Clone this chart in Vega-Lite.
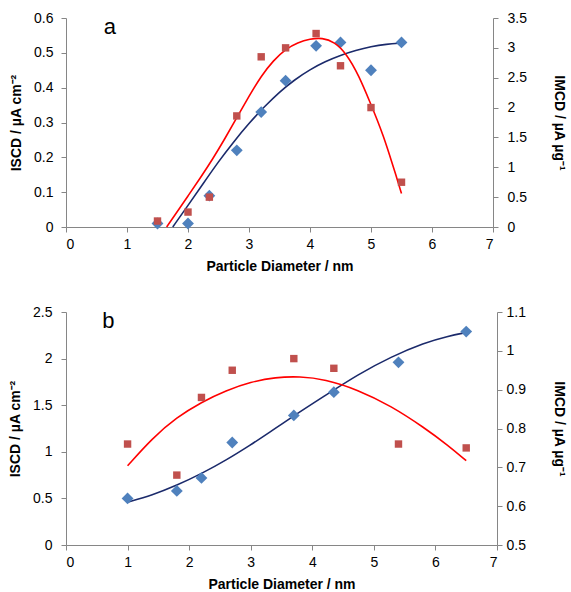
{
  "$schema": "https://vega.github.io/schema/vega-lite/v6.json",
  "padding": {"left": 8, "top": 11, "right": 2, "bottom": 0},
  "config": {
    "font": "Liberation Sans",
    "view": {"stroke": null},
    "concat": {"spacing": 32},
    "axis": {
      "domainColor": "#868686", "tickColor": "#868686", "tickSize": 5,
      "labelFontSize": 14, "labelColor": "#000000", "labelFont": "Liberation Sans", "labelOverlap": false,
      "titleFontSize": 14, "titleFontWeight": "bold", "titleColor": "#000000", "titleFont": "Liberation Sans",
      "grid": false
    }
  },
  "vconcat": [
    {
      "width": 427, "height": 209,
      "encoding": {
        "x": {"field": "d", "type": "quantitative", "scale": {"domain": [0, 7], "nice": false},
              "axis": {"values": [0,1,2,3,4,5,6,7], "format": "~g", "labelOverlap": false, "labelPadding": 5, "titlePadding": 8, "title": "Particle Diameter / nm"}}
      },
      "layer": [
        {
          "encoding": {
            "y": {"field": "v", "type": "quantitative", "scale": {"domain": [0, 0.6], "nice": false},
                  "axis": {"orient": "left", "values": [0,0.1,0.2,0.3,0.4,0.5,0.6], "format": "~g", "labelOverlap": false, "labelPadding": 8, "titlePadding": 10, "title": "ISCD / µA cm⁻²"}}
          },
          "layer": [
            {
              "data": {"values": [
                {"d": 1.75, "v": 0}, {"d": 2.0, "v": 0.062}, {"d": 2.25, "v": 0.125}, {"d": 2.5, "v": 0.188},
                {"d": 2.75, "v": 0.245}, {"d": 3.0, "v": 0.298}, {"d": 3.25, "v": 0.345}, {"d": 3.5, "v": 0.388},
                {"d": 3.75, "v": 0.423}, {"d": 4.0, "v": 0.452}, {"d": 4.25, "v": 0.475}, {"d": 4.5, "v": 0.493},
                {"d": 4.75, "v": 0.507}, {"d": 5.0, "v": 0.518}, {"d": 5.25, "v": 0.525}, {"d": 5.5, "v": 0.528}
              ]},
              "mark": {"type": "line", "color": "#1B2A6B", "strokeWidth": 1.6, "interpolate": "basis"}
            },
            {
              "data": {"values": [
                {"d": 1.5, "v": 0.01}, {"d": 2.0, "v": 0.01}, {"d": 2.35, "v": 0.09}, {"d": 2.8, "v": 0.22},
                {"d": 3.2, "v": 0.33}, {"d": 3.6, "v": 0.42}, {"d": 4.1, "v": 0.52}, {"d": 4.5, "v": 0.53},
                {"d": 5.0, "v": 0.45}, {"d": 5.5, "v": 0.53}
              ]},
              "mark": {"type": "point", "shape": "diamond", "filled": true, "size": 140, "color": "#4F81BD", "opacity": 1}
            },
            {
              "data": {"values": [{"d": 0.72, "v": 0.575, "label": "a"}]},
              "mark": {"type": "text", "fontSize": 22, "font": "Liberation Sans", "color": "#000000"},
              "encoding": {"text": {"field": "label"}}
            }
          ]
        },
        {
          "encoding": {
            "y": {"field": "v", "type": "quantitative", "scale": {"domain": [0, 3.5], "nice": false},
                  "axis": {"orient": "right", "values": [0,0.5,1,1.5,2,2.5,3,3.5], "format": "~g", "labelOverlap": false, "labelPadding": 9, "titlePadding": 25, "title": "IMCD / µA µg⁻¹"}}
          },
          "layer": [
            {
              "data": {"values": [
                {"d": 1.65, "v": 0}, {"d": 1.8, "v": 0.22}, {"d": 2.0, "v": 0.52}, {"d": 2.2, "v": 0.82},
                {"d": 2.4, "v": 1.13}, {"d": 2.6, "v": 1.47}, {"d": 2.8, "v": 1.83}, {"d": 3.0, "v": 2.19},
                {"d": 3.2, "v": 2.53}, {"d": 3.4, "v": 2.79}, {"d": 3.6, "v": 2.98}, {"d": 3.8, "v": 3.09},
                {"d": 4.0, "v": 3.15}, {"d": 4.2, "v": 3.17}, {"d": 4.4, "v": 3.1}, {"d": 4.6, "v": 2.9},
                {"d": 4.8, "v": 2.54}, {"d": 5.0, "v": 2.05}, {"d": 5.1, "v": 1.8}, {"d": 5.2, "v": 1.53},
                {"d": 5.3, "v": 1.22}, {"d": 5.4, "v": 0.9}, {"d": 5.5, "v": 0.56}
              ]},
              "mark": {"type": "line", "color": "#FF0000", "strokeWidth": 1.6, "interpolate": "basis"}
            },
            {
              "data": {"values": [
                {"d": 1.5, "v": 0.1}, {"d": 2.0, "v": 0.25}, {"d": 2.35, "v": 0.5}, {"d": 2.8, "v": 1.86},
                {"d": 3.2, "v": 2.85}, {"d": 3.6, "v": 3.0}, {"d": 4.1, "v": 3.24}, {"d": 4.5, "v": 2.7},
                {"d": 5.0, "v": 2.0}, {"d": 5.5, "v": 0.75}
              ]},
              "mark": {"type": "point", "shape": "square", "filled": true, "size": 55, "color": "#C0504D", "opacity": 1}
            }
          ]
        }
      ],
      "resolve": {"scale": {"y": "independent"}}
    },
    {
      "width": 431, "height": 233,
      "encoding": {
        "x": {"field": "d", "type": "quantitative", "scale": {"domain": [0, 7], "nice": false},
              "axis": {"values": [0,1,2,3,4,5,6,7], "format": "~g", "labelOverlap": false, "labelPadding": 5, "titlePadding": 8, "title": "Particle Diameter / nm"}}
      },
      "layer": [
        {
          "encoding": {
            "y": {"field": "v", "type": "quantitative", "scale": {"domain": [0, 2.5], "nice": false},
                  "axis": {"orient": "left", "values": [0,0.5,1,1.5,2,2.5], "format": "~g", "labelOverlap": false, "labelPadding": 9, "titlePadding": 10, "title": "ISCD / µA cm⁻²"}}
          },
          "layer": [
            {
              "data": {"values": [
                {"d": 1.0, "v": 0.46}, {"d": 1.4, "v": 0.535}, {"d": 1.8, "v": 0.64}, {"d": 2.2, "v": 0.765},
                {"d": 2.6, "v": 0.91}, {"d": 3.0, "v": 1.075}, {"d": 3.3, "v": 1.205}, {"d": 3.66, "v": 1.37},
                {"d": 4.2, "v": 1.6}, {"d": 4.74, "v": 1.83}, {"d": 5.28, "v": 2.02}, {"d": 5.82, "v": 2.17},
                {"d": 6.2, "v": 2.24}, {"d": 6.5, "v": 2.28}
              ]},
              "mark": {"type": "line", "color": "#1B2A6B", "strokeWidth": 1.6, "interpolate": "basis"}
            },
            {
              "data": {"values": [
                {"d": 1.0, "v": 0.5}, {"d": 1.8, "v": 0.58}, {"d": 2.2, "v": 0.72}, {"d": 2.7, "v": 1.1},
                {"d": 3.7, "v": 1.39}, {"d": 4.35, "v": 1.64}, {"d": 5.4, "v": 1.96}, {"d": 6.5, "v": 2.29}
              ]},
              "mark": {"type": "point", "shape": "diamond", "filled": true, "size": 140, "color": "#4F81BD", "opacity": 1}
            },
            {
              "data": {"values": [{"d": 0.69, "v": 2.4, "label": "b"}]},
              "mark": {"type": "text", "fontSize": 22, "font": "Liberation Sans", "color": "#000000"},
              "encoding": {"text": {"field": "label"}}
            }
          ]
        },
        {
          "encoding": {
            "y": {"field": "v", "type": "quantitative", "scale": {"domain": [0.5, 1.1], "nice": false, "zero": false},
                  "axis": {"orient": "right", "values": [0.5,0.6,0.7,0.8,0.9,1,1.1], "format": "~g", "labelOverlap": false, "labelPadding": 4, "titlePadding": 26, "title": "IMCD / µA µg⁻¹"}}
          },
          "layer": [
            {
              "data": {"values": [
                {"d": 1.0, "v": 0.704}, {"d": 1.4, "v": 0.775}, {"d": 1.8, "v": 0.829}, {"d": 2.2, "v": 0.868},
                {"d": 2.6, "v": 0.898}, {"d": 3.0, "v": 0.92}, {"d": 3.4, "v": 0.932}, {"d": 3.8, "v": 0.934},
                {"d": 4.2, "v": 0.927}, {"d": 4.74, "v": 0.9}, {"d": 5.28, "v": 0.858}, {"d": 5.82, "v": 0.802},
                {"d": 6.2, "v": 0.757}, {"d": 6.5, "v": 0.717}
              ]},
              "mark": {"type": "line", "color": "#FF0000", "strokeWidth": 1.6, "interpolate": "basis"}
            },
            {
              "data": {"values": [
                {"d": 1.0, "v": 0.76}, {"d": 1.8, "v": 0.68}, {"d": 2.2, "v": 0.88}, {"d": 2.7, "v": 0.95},
                {"d": 3.7, "v": 0.98}, {"d": 4.35, "v": 0.955}, {"d": 5.4, "v": 0.76}, {"d": 6.5, "v": 0.75}
              ]},
              "mark": {"type": "point", "shape": "square", "filled": true, "size": 55, "color": "#C0504D", "opacity": 1}
            }
          ]
        }
      ],
      "resolve": {"scale": {"y": "independent"}}
    }
  ]
}
